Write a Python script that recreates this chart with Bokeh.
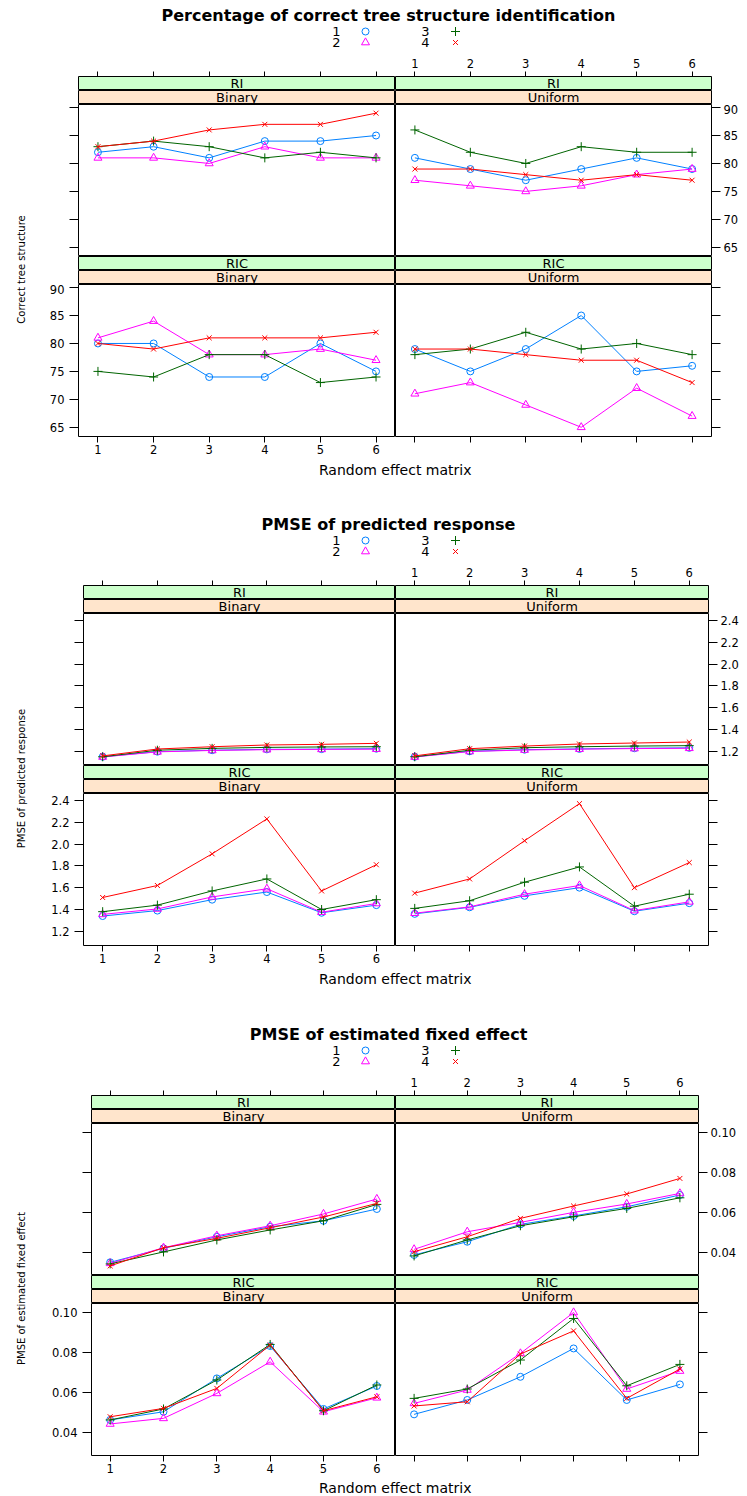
import numpy as np
from bokeh.plotting import figure
from bokeh.layouts import column, row
from bokeh.models import Range1d, LinearAxis, FixedTicker, PrintfTickFormatter
from bokeh.core.properties import value
from bokeh.embed import file_html
from bokeh.resources import INLINE

# ---------------- data ----------------
matrices = [1, 2, 3, 4, 5, 6]
series_names = ["1", "2", "3", "4"]
strip_outer = ["RI", "RIC"]
strip_inner = ["Binary", "Uniform"]
xlab_text = "Random effect matrix"

# Percentage of correct tree structure identification (series 1..4)
cts_ri_binary = [[82, 83, 81, 84, 84, 85],
                 [81, 81, 80, 83, 81, 81],
                 [83, 84, 83, 81, 82, 81],
                 [83, 84, 86, 87, 87, 89]]
cts_ri_uniform = [[81, 79, 77, 79, 81, 79],
                  [77, 76, 75, 76, 78, 79],
                  [86, 82, 80, 83, 82, 82],
                  [79, 79, 78, 77, 78, 77]]
cts_ric_binary = [[80, 80, 74, 74, 80, 75],
                  [81, 84, 78, 78, 79, 77],
                  [75, 74, 78, 78, 73, 74],
                  [80, 79, 81, 81, 81, 82]]
cts_ric_uniform = [[79, 75, 79, 85, 75, 76],
                   [71, 73, 69, 65, 72, 67],
                   [78, 79, 82, 79, 80, 78],
                   [79, 79, 78, 77, 77, 73]]
cts_ticks = [65, 70, 75, 80, 85, 90]

# PMSE of predicted response
pr_ri_binary = [[1.150, 1.197, 1.210, 1.218, 1.220, 1.224],
                [1.148, 1.195, 1.208, 1.215, 1.218, 1.220],
                [1.150, 1.210, 1.227, 1.236, 1.240, 1.242],
                [1.158, 1.221, 1.242, 1.258, 1.264, 1.273]]
pr_ri_uniform = [[1.150, 1.200, 1.215, 1.222, 1.228, 1.232],
                 [1.148, 1.198, 1.212, 1.220, 1.225, 1.228],
                 [1.150, 1.210, 1.233, 1.242, 1.248, 1.252],
                 [1.158, 1.224, 1.248, 1.267, 1.276, 1.285]]
pr_ric_binary = [[1.34, 1.39, 1.49, 1.56, 1.37, 1.44],
                 [1.355, 1.405, 1.515, 1.59, 1.375, 1.455],
                 [1.38, 1.44, 1.57, 1.68, 1.40, 1.49],
                 [1.51, 1.62, 1.91, 2.23, 1.57, 1.81]]
pr_ric_uniform = [[1.36, 1.42, 1.525, 1.60, 1.384, 1.458],
                  [1.366, 1.424, 1.54, 1.62, 1.39, 1.47],
                  [1.41, 1.48, 1.65, 1.79, 1.43, 1.54],
                  [1.55, 1.68, 2.03, 2.37, 1.60, 1.83]]
pr_ticks = [1.2, 1.4, 1.6, 1.8, 2.0, 2.2, 2.4]

# PMSE of estimated fixed effect
fe_ri_binary = [[0.0350, 0.0420, 0.0478, 0.0528, 0.0558, 0.0617],
                [0.0345, 0.0423, 0.0483, 0.0533, 0.0592, 0.0667],
                [0.0342, 0.0402, 0.0462, 0.0512, 0.0558, 0.0640],
                [0.0332, 0.0423, 0.0470, 0.0523, 0.0577, 0.0645]]
fe_ri_uniform = [[0.0387, 0.0453, 0.0540, 0.0582, 0.0628, 0.0687],
                 [0.0415, 0.0503, 0.0550, 0.0600, 0.0642, 0.0695],
                 [0.0382, 0.0462, 0.0533, 0.0578, 0.0620, 0.0673],
                 [0.0403, 0.0478, 0.0570, 0.0632, 0.0692, 0.0770]]
fe_ric_binary = [[0.0462, 0.0503, 0.0670, 0.0832, 0.0517, 0.0632],
                 [0.0442, 0.0470, 0.0595, 0.0753, 0.0503, 0.0573],
                 [0.0462, 0.0517, 0.0662, 0.0840, 0.0508, 0.0637],
                 [0.0478, 0.0520, 0.0620, 0.0837, 0.0508, 0.0578]]
fe_ric_uniform = [[0.0490, 0.0562, 0.0678, 0.0820, 0.0562, 0.0640],
                  [0.0545, 0.0612, 0.0795, 0.1000, 0.0617, 0.0707],
                  [0.0570, 0.0617, 0.0762, 0.0970, 0.0633, 0.0740],
                  [0.0532, 0.0553, 0.0792, 0.0908, 0.0570, 0.0717]]
fe_ticks = [0.04, 0.06, 0.08, 0.10]

# ---------------- styles ----------------
FONT = "DejaVu Sans"
series_colors = ["#0080ff", "#ff00ff", "#006400", "#ff0000"]
series_markers = ["circle", "triangle", "cross", "x"]
marker_sizes = [7, 8, 9, 7]
GREEN = "#ccffcc"
ORANGE = "#ffe5cc"
W = 747
HEAD_H = 54
STRIP_H = 14
PANEL_H = 152
TOP_AX = 22
BOT_AX = 24
YLAB_W = 38
x_limits = (0.65, 6.35)


def make_fig(w, h, xr, yr, bl=0, br=0, bt=0, bb=0):
    p = figure(width=w, height=h, x_range=xr, y_range=yr, title=None,
               toolbar_location=None, output_backend="svg",
               x_axis_location=None, y_axis_location=None,
               min_border_left=bl, min_border_right=br,
               min_border_top=bt, min_border_bottom=bb)
    p.grid.visible = False
    p.outline_line_color = None
    p.background_fill_color = None
    p.border_fill_color = "white"
    return p


def put_text(p, x, y, t, size, bold=False, angle=0.0):
    p.text(x=[x], y=[y], text=[t], angle=angle, text_align="center",
           text_baseline="middle", text_font=value(FONT), text_font_size=size,
           text_font_style="bold" if bold else "normal", text_color="black")


def add_axis(p, side, ticks, show_labels, fmt, tick_out, standoff):
    ax = LinearAxis(ticker=FixedTicker(ticks=ticks, minor_ticks=[]),
                    formatter=PrintfTickFormatter(format=fmt),
                    axis_line_color=None, major_tick_in=0, major_tick_out=tick_out,
                    minor_tick_in=0, minor_tick_out=0, minor_tick_line_color=None,
                    major_tick_line_color="black", major_tick_line_width=1,
                    major_label_standoff=standoff,
                    major_label_text_font=FONT, major_label_text_font_size="11.5px",
                    major_label_text_color="black" if show_labels else None)
    p.add_layout(ax, side)


def build_group(title, ylab, panels, ylims, yticks, fmt, lb, fl, fr, rb,
                xlab_h, xlab_y):
    xr = Range1d(*x_limits)
    yr = Range1d(*ylims)
    xmid = (x_limits[0] + x_limits[1]) / 2.0
    wl, wr = lb + fl, fr + rb

    # header: title + key
    header = make_fig(W, HEAD_H, Range1d(0, W), Range1d(0, HEAD_H))
    put_text(header, 388, HEAD_H - 14.5, title, "16px", bold=True)
    key_pos = [(336, 365, HEAD_H - 31), (336, 365, HEAD_H - 42),
               (425, 455, HEAD_H - 31), (425, 455, HEAD_H - 42)]
    for s, (tx, mx, ky) in enumerate(key_pos):
        put_text(header, tx, ky, series_names[s], "13px")
        header.scatter(x=[mx], y=[ky], marker=series_markers[s], size=marker_sizes[s],
                       line_color=series_colors[s], fill_color=None, line_width=1)

    def strip(label, color, left, top_axis=False, show_labels=False):
        bt = TOP_AX if top_axis else 0
        p = make_fig(wl if left else wr, STRIP_H + bt, xr, Range1d(0, 1),
                     bl=lb if left else 0, br=0 if left else rb, bt=bt)
        p.background_fill_color = color
        p.outline_line_color = "black"
        p.outline_line_width = 1
        put_text(p, xmid, 0.5, label, "13px")
        if top_axis:
            add_axis(p, "above", matrices, show_labels, "%d", 5, 4)
        return p

    def panel(data, left, bottom_row):
        p = make_fig(wl if left else wr, PANEL_H + (BOT_AX if bottom_row else 0), xr, yr,
                     bl=lb if left else 0, br=0 if left else rb,
                     bb=BOT_AX if bottom_row else 0)
        p.background_fill_color = "white"
        p.outline_line_color = "black"
        p.outline_line_width = 1
        for s in range(4):
            p.line(matrices, data[s], line_color=series_colors[s], line_width=1)
            p.scatter(matrices, data[s], marker=series_markers[s], size=marker_sizes[s],
                      line_color=series_colors[s], fill_color=None, line_width=1)
        # alternating lattice axes
        if left:
            add_axis(p, "left", yticks, bottom_row, fmt, 9, 5)
        else:
            add_axis(p, "right", yticks, not bottom_row, fmt, 9, 3)
        if bottom_row:
            add_axis(p, "below", matrices, left, "%d", 6, 2)
        return p

    rows = [
        row(strip(strip_outer[0], GREEN, True, True, False),
            strip(strip_outer[0], GREEN, False, True, True)),
        row(strip(strip_inner[0], ORANGE, True), strip(strip_inner[1], ORANGE, False)),
        row(panel(panels[0], True, False), panel(panels[1], False, False)),
        row(strip(strip_outer[1], GREEN, True), strip(strip_outer[1], GREEN, False)),
        row(strip(strip_inner[0], ORANGE, True), strip(strip_inner[1], ORANGE, False)),
        row(panel(panels[2], True, True), panel(panels[3], False, True)),
    ]
    block_h = TOP_AX + STRIP_H * 4 + PANEL_H * 2 + BOT_AX
    ylab_fig = make_fig(YLAB_W, block_h, Range1d(0, YLAB_W), Range1d(0, block_h))
    put_text(ylab_fig, 21, block_h - 215, ylab, "10px", angle=np.pi / 2)

    xlab_fig = make_fig(W, xlab_h, Range1d(0, W), Range1d(0, xlab_h))
    put_text(xlab_fig, 394.7, xlab_y, xlab_text, "14px")

    return column(header, row(ylab_fig, column(*rows)), xlab_fig)


g1 = build_group("Percentage of correct tree structure identification", "Correct tree structure",
                 (cts_ri_binary, cts_ri_uniform, cts_ric_binary, cts_ric_uniform),
                 (63.35, 90.55), cts_ticks, "%d", 40, 317, 316, 36, 49, 40)
g2 = build_group("PMSE of predicted response", "PMSE of predicted response",
                 (pr_ri_binary, pr_ri_uniform, pr_ric_binary, pr_ric_uniform),
                 (1.07, 2.463), pr_ticks, "%.1f", 45, 312, 313, 39, 50, 41)
g3 = build_group("PMSE of estimated fixed effect", "PMSE of estimated fixed effect",
                 (fe_ri_binary, fe_ri_uniform, fe_ric_binary, fe_ric_uniform),
                 (0.0284, 0.1045), fe_ticks, "%.2f", 53, 304, 303, 49, 17, 8.5)

page = column(g1, g2, g3)
open("out.html", "w").write(file_html(page, INLINE))
